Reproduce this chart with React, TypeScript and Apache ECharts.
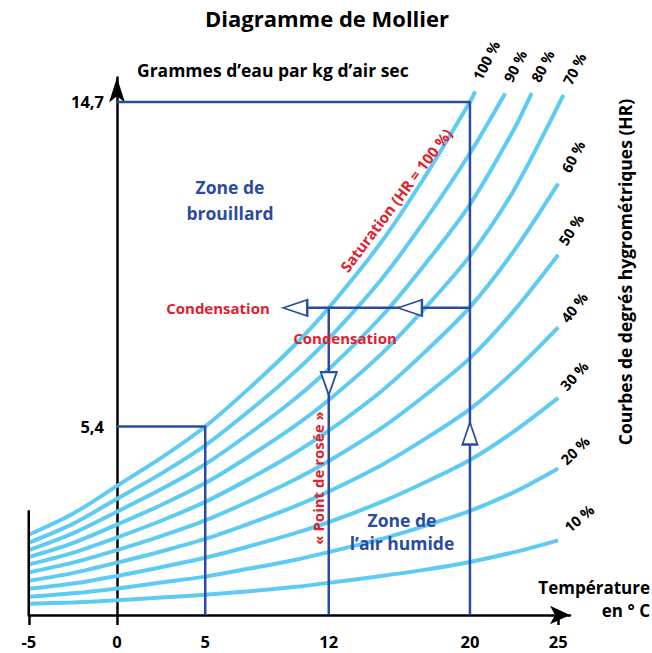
import React, { useEffect, useRef } from "react";
import * as echarts from "echarts";

// Temperatures (°C) at which the humidity curves are read
const temps = [-5, -2.5, 0, 2.5, 5, 7.5, 10, 12, 15, 17.5, 20, 22.5, 25];

// Water content (g/kg dry air) for each relative humidity curve
const hr100 = [2.3, 2.9, 3.7, 4.5, 5.4, 6.5, 7.7, 8.8, 10.7, 12.6, 14.7];
const hr90 = [2.07, 2.61, 3.33, 4.05, 4.86, 5.85, 6.93, 7.92, 9.63, 11.34, 13.23];
const hr80 = [1.86, 2.34, 2.96, 3.6, 4.32, 5.2, 6.16, 7.04, 8.56, 10.08, 11.76, 13.92];
const hr70 = [1.66, 2.06, 2.59, 3.15, 3.78, 4.55, 5.39, 6.16, 7.49, 8.82, 10.29, 12.18];
const hr60 = [1.45, 1.78, 2.22, 2.7, 3.24, 3.9, 4.62, 5.28, 6.42, 7.56, 8.82, 10.44, 12.36];
const hr50 = [1.22, 1.5, 1.86, 2.26, 2.71, 3.26, 3.86, 4.41, 5.36, 6.31, 7.36, 8.72, 10.32];
const hr40 = [0.98, 1.2, 1.5, 1.82, 2.18, 2.62, 3.1, 3.54, 4.3, 5.06, 5.9, 6.98, 8.24];
const hr30 = [0.75, 0.9, 1.12, 1.37, 1.64, 1.97, 2.33, 2.66, 3.24, 3.81, 4.44, 5.26, 6.22];
const hr20 = [0.52, 0.62, 0.76, 0.93, 1.1, 1.33, 1.57, 1.8, 2.18, 2.56, 2.98, 3.52, 4.2];
const hr10 = [0.32, 0.36, 0.42, 0.5, 0.58, 0.68, 0.8, 0.92, 1.12, 1.3, 1.52, 1.8, 2.14];

const curveNames = ["100 %", "90 %", "80 %", "70 %", "60 %", "50 %", "40 %", "30 %", "20 %", "10 %"];
const curveValues = [hr100, hr90, hr80, hr70, hr60, hr50, hr40, hr30, hr20, hr10];
// Top end of the curves that leave the chart at the top
const curveEndT = [20.3, 22, 23.5, 25.3, null, null, null, null, null, null];
const curveEndV = [15.0, 14.95, 14.95, 14.9, null, null, null, null, null, null];

// Axis ticks / labels
const xLabelValues = [-5, 0, 5, 12, 20, 25];
const xTickValues = [-5, 0, 25];
const yLabelValues = [5.4, 14.7];

// Worked example values
const satHigh = 14.7; // at 20 °C
const tHigh = 20;
const satLow = 5.4; // at 5 °C
const tLow = 5;
const dewValue = 8.8;
const dewT = 12;
const leftStubTop = 3.0;
const arrowLeft1T = 10.1;
const arrowLeft2T = 16.6;
const arrowDownV = 6.63;
const arrowUpV = 5.2;

const X_MIN = -5;
const X_MAX = 25.67;
const Y_MAX = 15.4;

const BLUE = "#2b4ba3";
const CURVE = "#5ecbf3";
const RED = "#e0202e";
const FONT = '"Open Sans", "Noto Sans", sans-serif';

const GRID_LEFT = 28.75;
const GRID_RIGHT = 82;

const labelOffsets = [
  [11, -31], [10, -27], [11, -27], [11, -26], [15, -27],
  [13, -25], [16, -20], [16, -22], [17, -18], [21, -22],
];
const labelRot = [63, 63, 63, 63, 62, 57, 52, 48, 44, 40];

function curveData(i: number) {
  const vals = curveValues[i];
  const d: number[][] = vals.map((v, k) => [temps[k], v]);
  if (curveEndT[i] != null) d.push([curveEndT[i] as number, curveEndV[i] as number]);
  return d;
}

function tri(coord: number[], rot: number, size: number[]) {
  return {
    coord,
    symbol: "triangle",
    symbolSize: size,
    symbolRotate: rot,
    itemStyle: { color: "#ffffff", borderColor: BLUE, borderWidth: 2 },
    label: { show: false },
  };
}

export default function App() {
  const ref = useRef<HTMLDivElement>(null);
  useEffect(() => {
    const chart = echarts.init(ref.current as HTMLDivElement, null, { renderer: "svg" });
    const plotWidth = 652 - GRID_LEFT - GRID_RIGHT;
    const yOffset = -((0 - X_MIN) / (X_MAX - X_MIN)) * plotWidth;
    const curveSeries = curveNames.map((name, i) => ({
      type: "line",
      name,
      data: curveData(i),
      smooth: 0.3,
      symbol: "none",
      clip: false,
      lineStyle: { color: CURVE, width: 4 },
      z: 2,
    }));
    const blueLine = (data: number[][], extra: any = {}) => ({
      type: "line",
      data,
      symbol: "none",
      clip: false,
      lineStyle: { color: BLUE, width: 2.5 },
      z: 3,
      ...extra,
    });
    const option: any = {
      animation: false,
      grid: {
        left: GRID_LEFT,
        right: GRID_RIGHT,
        top: 77.5,
        bottom: 38,
        containLabel: false,
        outerBoundsMode: "none",
      },
      xAxis: {
        type: "value",
        min: X_MIN,
        max: X_MAX,
        splitLine: { show: false },
        axisLine: {
          show: true,
          symbol: ["none", "arrow"],
          symbolSize: [14, 20],
          lineStyle: { color: "#000", width: 2.5 },
        },
        axisTick: {
          show: true,
          customValues: xTickValues,
          length: 10,
          lineStyle: { color: "#000", width: 2.5 },
        },
        axisLabel: {
          customValues: xLabelValues,
          margin: 18,
          color: "#000",
          fontSize: 16.5,
          fontWeight: "bold",
          fontFamily: FONT,
        },
      },
      yAxis: {
        type: "value",
        min: 0,
        max: Y_MAX,
        offset: yOffset,
        splitLine: { show: false },
        axisLine: {
          show: true,
          onZero: false,
          symbol: ["none", "arrow"],
          symbolSize: [12, 25],
          lineStyle: { color: "#000", width: 2.5 },
        },
        axisTick: { show: false },
        axisLabel: {
          customValues: yLabelValues,
          margin: 13,
          color: "#000",
          fontSize: 16.5,
          fontWeight: "bold",
          fontFamily: FONT,
          formatter: (v: number) => String(v).replace(".", ","),
        },
      },
      series: [
        ...curveSeries,
        {
          type: "line",
          data: [[-5, 0], [-5, leftStubTop]],
          symbol: "none",
          lineStyle: { color: "#000", width: 2.5 },
          z: 3,
        },
        blueLine([[0, satHigh], [tHigh, satHigh], [tHigh, 0]], {
          markPoint: { data: [tri([tHigh, arrowUpV], 0, [15, 22])] },
        }),
        blueLine([[0, satLow], [tLow, satLow], [tLow, 0]]),
        blueLine([[tHigh, dewValue], [arrowLeft1T + 0.4, dewValue]], {
          markPoint: {
            data: [
              tri([arrowLeft1T, dewValue], 90, [16, 24]),
              tri([arrowLeft2T, dewValue], 90, [16, 24]),
            ],
          },
        }),
        blueLine([[dewT, dewValue], [dewT, 0]], {
          markPoint: { data: [tri([dewT, arrowDownV], 180, [16, 23])] },
        }),
      ],
    };
    chart.setOption(option);

    const txt = (text: string, x: number, y: number, o: any = {}) => ({
      type: "text",
      x,
      y,
      rotation: o.rotation || 0,
      z: 100,
      style: {
        text,
        x: 0,
        y: 0,
        fill: o.fill || "#000",
        fontSize: o.fontSize || 17.5,
        fontWeight: "bold",
        fontFamily: FONT,
        align: o.align || "center",
        verticalAlign: "middle",
        lineHeight: o.lineHeight,
      },
    });

    const labels = curveNames.map((name, i) => {
      const d = curveData(i);
      const last = d[d.length - 1];
      const p = chart.convertToPixel({ gridIndex: 0 }, last) as number[];
      return txt(name, p[0] + labelOffsets[i][0], p[1] + labelOffsets[i][1], {
        fontSize: 14.5,
        rotation: (labelRot[i] * Math.PI) / 180,
      });
    });

    chart.setOption({
      graphic: [
        txt("Diagramme de Mollier", 327, 18, { fontSize: 22 }),
        txt("Grammes d’eau par kg d’air sec", 137, 70, { align: "left" }),
        txt("Courbes de degrés hygrométriques (HR)", 625, 272, { rotation: Math.PI / 2 }),
        txt("Température\nen ° C", 650, 599, { align: "right", lineHeight: 23, fontSize: 17 }),
        txt("Zone de\nbrouillard", 230, 200, { fill: BLUE, fontSize: 17.5, lineHeight: 26 }),
        txt("Zone de\nl’air humide", 402, 531, { fill: BLUE, fontSize: 17.5, lineHeight: 23 }),
        txt("Condensation", 218, 308, { fill: RED, fontSize: 15 }),
        txt("Condensation", 345, 338, { fill: RED, fontSize: 15 }),
        txt("Saturation (HR = 100 %)", 396, 200, { fill: RED, fontSize: 15, rotation: (53 * Math.PI) / 180 }),
        txt("« Point de rosée »", 318, 478, { fill: RED, fontSize: 15, rotation: Math.PI / 2 }),
        ...labels,
      ],
    });
    return () => chart.dispose();
  }, []);
  return <div ref={ref} style={{ position: "absolute", left: 0, top: 0, width: 652, height: 653 }} />;
}
